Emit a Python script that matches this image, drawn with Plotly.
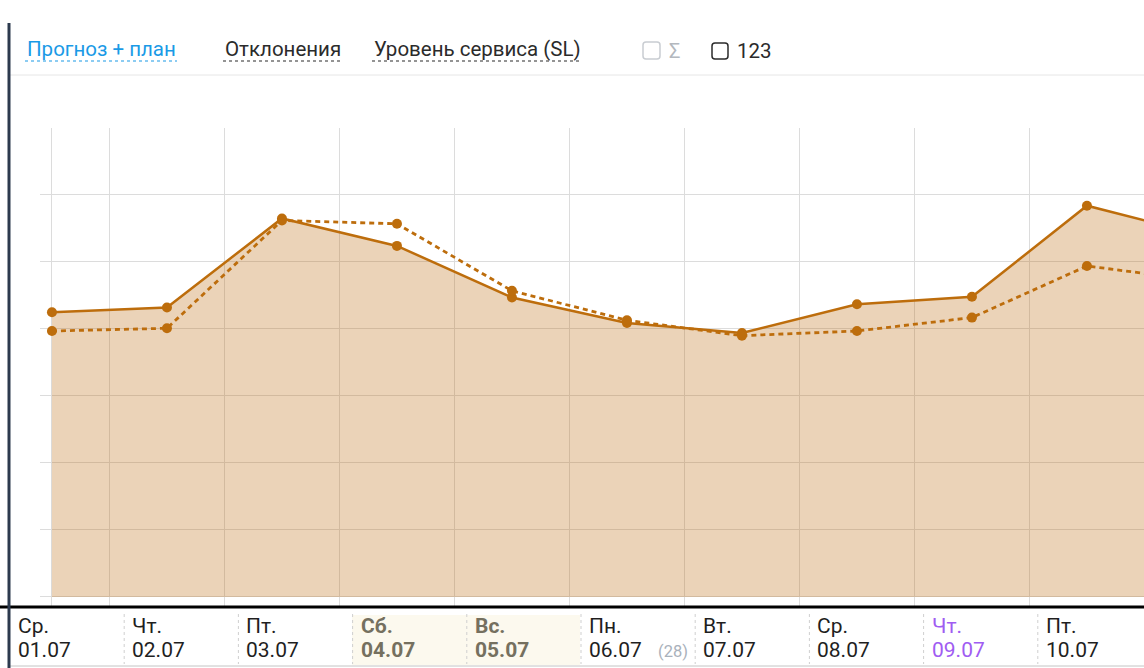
import plotly.graph_objects as go


####################################################
# DADOS
####################################################

dias = ["Ср.", "Чт.", "Пт.", "Сб.", "Вс.", "Пн.", "Вт.", "Ср.", "Чт.", "Пт."]

datas = ["01.07", "02.07", "03.07", "04.07", "05.07",
         "06.07", "07.07", "08.07", "09.07", "10.07"]

# 11-й день уходит за правый край
prognoz = [42.5, 43.2, 56.5, 52.4, 44.7, 40.9, 39.4, 43.7, 44.8, 58.4, 54.0]

plan = [39.7, 40.1, 56.2, 55.7, 45.7, 41.3, 39.0, 39.7, 41.7, 49.4, 47.2]

vyhodnye = ["Сб.", "Вс."]

segodnya = "09.07"

nedelya_nomer = "(28)"

vkladki = ["Прогноз + план", "Отклонения", "Уровень сервиса (SL)"]


####################################################
# ПИКСЕЛИ -> PAPER
####################################################

W, H = 1144, 668


def px_x(v):
    return v / W


def px_y(v):
    return 1 - v / H


def linha(x0, y0, x1, y1, cor, largura=1, dash="solid"):
    return dict(
        type="line", xref="paper", yref="paper",
        x0=px_x(x0), y0=px_y(y0), x1=px_x(x1), y1=px_y(y1),
        line=dict(color=cor, width=largura, dash=dash),
        layer="above"
    )


def caixa(x0, y0, x1, y1, cor, r=3):
    # квадрат с закруглёнными углами
    a, b, c, d = px_x(x0), px_x(x1), px_y(y0), px_y(y1)
    rx, ry = r / W, r / H
    path = (
        f"M{a + rx},{c} L{b - rx},{c} Q{b},{c} {b},{c - ry} "
        f"L{b},{d + ry} Q{b},{d} {b - rx},{d} "
        f"L{a + rx},{d} Q{a},{d} {a},{d + ry} "
        f"L{a},{c - ry} Q{a},{c} {a + rx},{c} Z"
    )
    return dict(type="path", xref="paper", yref="paper", path=path,
                line=dict(color=cor, width=1.5), layer="above")


def texto(x, y, t, cor="#222222", tam=21, anchor="left"):
    return dict(
        xref="paper", yref="paper", x=px_x(x), y=px_y(y),
        text=t, showarrow=False, xanchor=anchor, yanchor="middle",
        font=dict(family="Roboto", size=tam, color=cor)
    )


####################################################
# ГРАФИК
####################################################

cor_linha = "#bd6d0c"

idx = list(range(len(prognoz)))

fig = go.Figure()

fig.add_trace(go.Scatter(
    x=idx, y=prognoz,
    mode="lines+markers",
    fill="tozeroy",
    fillcolor="rgba(190,110,20,0.30)",
    line=dict(color=cor_linha, width=2.5),
    marker=dict(size=10, color=cor_linha),
    hoverinfo="skip"
))

fig.add_trace(go.Scatter(
    x=idx, y=plan,
    mode="lines+markers",
    line=dict(color=cor_linha, width=2.8, dash="5px,4px"),
    marker=dict(size=10, color=cor_linha),
    hoverinfo="skip"
))

grade_x = [0] + [i + 0.5 for i in range(len(dias))]

fig.update_xaxes(
    domain=[px_x(40), 1],
    range=[-0.104, 9.496],
    tickvals=grade_x,
    showticklabels=False,
    showgrid=True,
    gridcolor="#dcdcdc",
    gridwidth=1,
    zeroline=False,
    showline=False,
    ticks=""
)

fig.update_yaxes(
    domain=[px_y(607), px_y(128)],
    range=[-1.5, 70],
    tickvals=[0, 10, 20, 30, 40, 50, 60, 70],
    showticklabels=False,
    showgrid=True,
    gridcolor="#dcdcdc",
    gridwidth=1,
    zeroline=False,
    showline=False,
    ticks=""
)


####################################################
# ИНТЕРФЕЙС ВОКРУГ
####################################################

shapes = []
anns = []

# выходные
shapes.append(dict(
    type="rect", xref="paper", yref="paper",
    x0=px_x(352), x1=px_x(580), y0=px_y(615), y1=px_y(665),
    fillcolor="#fcf9ee", line=dict(width=0), layer="below"
))

# линии
shapes.append(linha(10, 75, W, 75, "#e6e6e6", 1))
shapes.append(linha(0, 607, W, 607, "#000000", 3))
shapes.append(linha(10, 666, W, 666, "#c4c4c4", 1))
shapes.append(linha(9, 23, 9, H, "#2c3a4e", 3))

# разделители ячеек
for k in range(1, len(dias)):
    xs = 10 + 114.2 * k
    shapes.append(linha(xs, 614, xs, 664, "#cfcfcf", 1, "dot"))

# вкладки
vk_x = [(25, 177), (223, 341), (372, 582)]
vk_cor = ["#1a9ae6", "#2b2b2b", "#2b2b2b"]

for t, (a, b), c in zip(vkladki, vk_x, vk_cor):
    anns.append(texto(a, 49, t, c, 20.5))
    shapes.append(linha(a, 61, b, 61, c, 1.2, "dot"))

# чекбоксы
shapes.append(caixa(643, 42, 660, 59, "#c9cdd2"))
anns.append(texto(667, 51, "Σ", "#b3b8be", 20))
shapes.append(caixa(712, 43, 728, 59, "#2b2b2b"))
anns.append(texto(735, 51, "123", "#2b2b2b", 20.5))

# даты
for k, (d, dt) in enumerate(zip(dias, datas)):
    x0 = 16 + 114.2 * k
    cor = "#1f1f1f"
    d_t, dt_t = d, dt
    if d in vyhodnye:
        cor = "#75705f"
        d_t, dt_t = f"<b>{d}</b>", f"<b>{dt}</b>"
    if dt == segodnya:
        cor = "#a05cf2"
    anns.append(texto(x0, 626, d_t, cor))
    anns.append(texto(x0, 650, dt_t, cor))

anns.append(texto(656, 651, nedelya_nomer, "#a9b1bb", 16.5))


fig.update_layout(
    width=W,
    height=H,
    autosize=False,
    margin=dict(l=0, r=0, t=0, b=0),
    paper_bgcolor="white",
    plot_bgcolor="white",
    showlegend=False,
    hovermode=False,
    shapes=shapes,
    annotations=anns,
    font=dict(family="Roboto")
)

# убираем отступ body, чтобы график стоял в углу окна
fig.write_html(
    "out.html",
    config={"displayModeBar": False},
    post_script="document.body.style.margin='0';"
)
